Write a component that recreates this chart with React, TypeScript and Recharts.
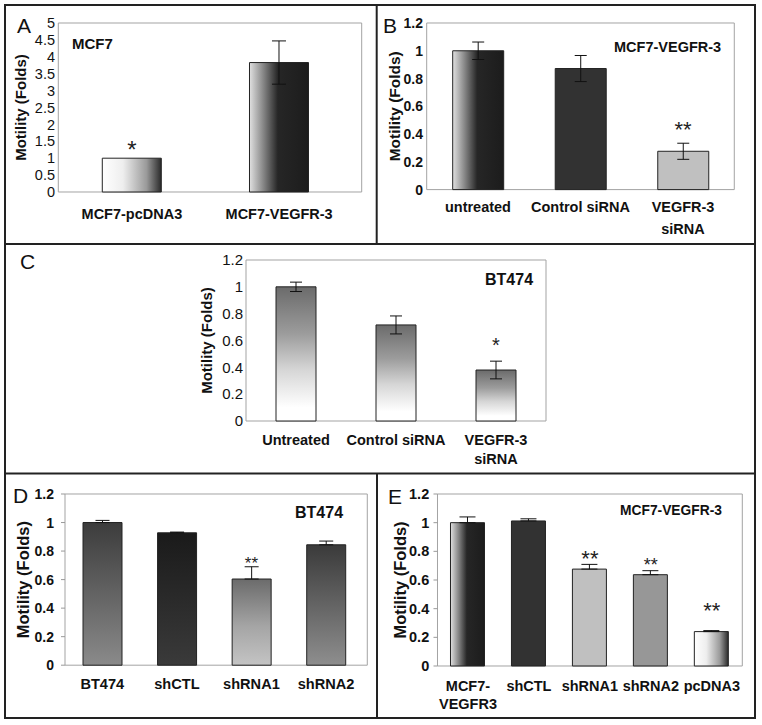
import React from 'react';
import { BarChart, Bar, XAxis, YAxis, CartesianGrid, ErrorBar, Cell, ReferenceDot } from 'recharts';

const FONT = '"Liberation Sans", Arial, Helvetica, sans-serif';

// ---- data ----
const ticksA = [0, 0.5, 1, 1.5, 2, 2.5, 3, 3.5, 4, 4.5, 5];
const ticks12 = [0, 0.2, 0.4, 0.6, 0.8, 1, 1.2];

const catsA = ['MCF7-pcDNA3', 'MCF7-VEGFR-3'];
const valsA = [1.0, 3.83];
const errsA = [0, 0.64];
const sigA = ['*', ''];
const sigAtA = [1.41, 0];

const catsB = ['untreated', 'Control siRNA', 'VEGFR-3\nsiRNA'];
const valsB = [1.0, 0.872, 0.276];
const errsB = [0.063, 0.094, 0.058];
const sigB = ['', '', '**'];
const sigAtB = [0, 0, 0.47];

const catsC = ['Untreated', 'Control siRNA', 'VEGFR-3\nsiRNA'];
const valsC = [1.0, 0.716, 0.38];
const errsC = [0.035, 0.067, 0.066];
const sigC = ['', '', '*'];
const sigAtC = [0, 0, 0.6];

// D and E only have the upper half of the error bar
const catsD = ['BT474', 'shCTL', 'shRNA1', 'shRNA2'];
const valsD = [1.0, 0.928, 0.604, 0.844];
const errsD = [0.015, 0.005, 0.086, 0.026];
const sigD = ['', '', '**', ''];
const sigAtD = [0, 0, 0.74, 0];

const catsE = ['MCF7-\nVEGFR3', 'shCTL', 'shRNA1', 'shRNA2', 'pcDNA3'];
const valsE = [1.0, 1.012, 0.676, 0.637, 0.24];
const errsE = [0.04, 0.015, 0.033, 0.028, 0.007];
const sigE = ['', '', '**', '**', '**'];
const sigAtE = [0, 0, 0.785, 0.734, 0.427];

// ---- fills ----
type Grad = { id: string; dir: 'h' | 'v'; stops: [number, string][] };

const lightToDark: [number, string][] = [[0, '#e0e0e0'], [0.22, '#8c8c8c'], [0.48, '#262626'], [1, '#1c1c1c']];
const whiteToDark: [number, string][] = [[0, '#ffffff'], [0.35, '#eeeeee'], [0.75, '#9a9a9a'], [1, '#2a2a2a']];

const gradsA: Grad[] = [
  { id: 'a0', dir: 'h', stops: whiteToDark },
  { id: 'a1', dir: 'h', stops: lightToDark },
];
const fillsA = ['url(#a0)', 'url(#a1)'];

const gradsB: Grad[] = [{ id: 'b0', dir: 'h', stops: lightToDark }];
const fillsB = ['url(#b0)', '#323232', '#c0c0c0'];

const gradsC: Grad[] = [
  { id: 'c0', dir: 'v', stops: [[0, '#6b6b6b'], [0.35, '#9c9c9c'], [0.62, '#d6d6d6'], [0.9, '#ffffff']] },
];
const fillsC = ['url(#c0)', 'url(#c0)', 'url(#c0)'];

const gradsD: Grad[] = [
  { id: 'd0', dir: 'v', stops: [[0, '#3c3c3c'], [1, '#8a8a8a']] },
  { id: 'd1', dir: 'v', stops: [[0, '#1a1a1a'], [1, '#3a3a3a']] },
  { id: 'd2', dir: 'v', stops: [[0, '#6b6b6b'], [0.55, '#a5a5a5'], [1, '#c4c4c4']] },
  { id: 'd3', dir: 'v', stops: [[0, '#3a3a3a'], [1, '#8e8e8e']] },
];
const fillsD = ['url(#d0)', 'url(#d1)', 'url(#d2)', 'url(#d3)'];

const gradsE: Grad[] = [
  { id: 'e0', dir: 'h', stops: lightToDark },
  { id: 'e4', dir: 'h', stops: whiteToDark },
];
const fillsE = ['url(#e0)', '#323232', '#c0c0c0', '#979797', 'url(#e4)'];

type PanelProps = {
  cats: string[];
  vals: number[];
  errs: number[];
  upperOnly?: boolean;
  sig: string[];
  sigAt: number[];
  sigSize: number[];
  ticks: number[];
  plot: { l: number; t: number; r: number; b: number };
  chartLeft: number;
  padR?: number;
  barSize: number;
  fills: string[];
  grads: Grad[];
  yTitleX: number;
  yTitleSize: number;
  yTickSize: number;
  yTickBold: boolean;
  yGap: number;
  yTickLine?: boolean;
  xFont: number;
  xGap: number;
  xLineH: number;
  capW: number;
};

function Panel(p: PanelProps) {
  const mt = 8;
  const mr = 8;
  const xH = 50;
  const yW = p.plot.l - p.chartLeft;
  const rows = p.cats.map((c, i) => ({
    name: c,
    v: p.vals[i],
    e: p.upperOnly ? [0, p.errs[i]] : p.errs[i],
  }));
  const tl = p.yTickLine ? 4 : 0;

  const renderTick = (t: any) => {
    const lines = String(t.payload.value).split('\n');
    return (
      <text x={t.x} y={t.y} textAnchor="middle" fontFamily={FONT} fontWeight="bold" fontSize={p.xFont} fill="#111">
        {lines.map((ln, i) => (
          <tspan key={i} x={t.x} dy={i === 0 ? p.xFont * 0.72 : p.xLineH}>
            {ln}
          </tspan>
        ))}
      </text>
    );
  };

  return (
    <div style={{ position: 'absolute', left: p.chartLeft, top: p.plot.t - mt }}>
      <BarChart
        width={p.plot.r - p.plot.l + yW + mr}
        height={p.plot.b - p.plot.t + mt + xH}
        data={rows}
        margin={{ top: mt, right: mr, left: 0, bottom: 0 }}
      >
        <defs>
          {p.grads.map((g) => (
            <linearGradient key={g.id} id={g.id} x1="0" y1="0" x2={g.dir === 'h' ? '1' : '0'} y2={g.dir === 'v' ? '1' : '0'}>
              {g.stops.map(([o, c], i) => (
                <stop key={i} offset={o} stopColor={c} />
              ))}
            </linearGradient>
          ))}
        </defs>
        <CartesianGrid
          stroke="#a3a3a3"
          horizontalCoordinatesGenerator={(g: any) => (g.offset ? [g.offset.top, g.offset.top + g.offset.height] : [])}
          verticalCoordinatesGenerator={(g: any) => (g.offset ? [g.offset.left, g.offset.left + g.offset.width] : [])}
        />
        <XAxis
          dataKey="name"
          height={xH}
          axisLine={false}
          tickLine={false}
          tickSize={0}
          tickMargin={p.xGap}
          interval={0}
          padding={{ left: 0, right: p.padR || 0 }}
          tick={renderTick}
        />
        <YAxis
          width={yW}
          domain={[p.ticks[0], p.ticks[p.ticks.length - 1]]}
          ticks={p.ticks}
          interval={0}
          axisLine={false}
          tickLine={p.yTickLine ? { stroke: '#999' } : false}
          tickSize={tl}
          tickMargin={p.yGap - tl}
          tick={{ fill: '#111', fontSize: p.yTickSize, fontWeight: p.yTickBold ? 'bold' : 'normal', fontFamily: FONT }}
          label={{
            value: 'Motility (Folds)',
            angle: -90,
            position: 'insideLeft',
            offset: p.yTitleX - p.chartLeft,
            style: { textAnchor: 'middle', fontSize: p.yTitleSize, fontWeight: 'bold', fontFamily: FONT, fill: '#111' },
          }}
        />
        <Bar dataKey="v" barSize={p.barSize} stroke="#222" strokeWidth={1} isAnimationActive={false}>
          {rows.map((r, i) => (
            <Cell key={r.name} fill={p.fills[i]} />
          ))}
          <ErrorBar dataKey="e" width={p.capW} stroke="#111" strokeWidth={1} isAnimationActive={false} />
        </Bar>
        {p.sig.map((s, i) =>
          s ? (
            <ReferenceDot
              key={'s' + i}
              x={p.cats[i]}
              y={p.sigAt[i]}
              r={1}
              shape={(d: any) => (
                <text
                  x={d.cx}
                  y={d.cy + p.sigSize[i] * 0.58}
                  textAnchor="middle"
                  fontFamily={FONT}
                  fontSize={p.sigSize[i]}
                  fill="#222"
                >
                  {s}
                </text>
              )}
            />
          ) : null
        )}
      </BarChart>
    </div>
  );
}

export default function App() {
  return (
    <div style={{ position: 'absolute', left: 0, top: 0, width: 762, height: 725, background: '#fff' }}>
      <Panel
        cats={catsA} vals={valsA} errs={errsA} sig={sigA} sigAt={sigAtA} sigSize={[24, 24]}
        ticks={ticksA} plot={{ l: 58.3, t: 22.7, r: 361.7, b: 191.7 }} chartLeft={7} padR={9}
        barSize={59} fills={fillsA} grads={gradsA}
        yTitleX={21} yTitleSize={15} yTickSize={14.5} yTickBold={false} yGap={3.3}
        xFont={14.5} xGap={16.6} xLineH={18} capW={7}
      />
      <Panel
        cats={catsB} vals={valsB} errs={errsB} sig={sigB} sigAt={sigAtB} sigSize={[22, 22, 22]}
        ticks={ticks12} plot={{ l: 426.7, t: 22.7, r: 734.3, b: 189.3 }} chartLeft={380}
        barSize={51} fills={fillsB} grads={gradsB}
        yTitleX={394} yTitleSize={15.5} yTickSize={14} yTickBold={true} yGap={3.7}
        xFont={14.5} xGap={12.4} xLineH={22} capW={6}
      />
      <Panel
        cats={catsC} vals={valsC} errs={errsC} sig={sigC} sigAt={sigAtC} sigSize={[20, 20, 20]}
        ticks={ticks12} plot={{ l: 246, t: 260, r: 546, b: 421 }} chartLeft={150}
        barSize={40} fills={fillsC} grads={gradsC}
        yTitleX={207} yTitleSize={15} yTickSize={15} yTickBold={false} yGap={3}
        xFont={14.5} xGap={14} xLineH={19} capW={6}
      />
      <Panel
        cats={catsD} vals={valsD} errs={errsD} upperOnly sig={sigD} sigAt={sigAtD} sigSize={[17, 17, 17, 17]}
        ticks={ticks12} plot={{ l: 65, t: 494.3, r: 367.3, b: 665.5 }} chartLeft={7} padR={4}
        barSize={39} fills={fillsD} grads={gradsD}
        yTitleX={22.7} yTitleSize={16.5} yTickSize={14} yTickBold={true} yGap={11} yTickLine
        xFont={14.6} xGap={13} xLineH={18} capW={7}
      />
      <Panel
        cats={catsE} vals={valsE} errs={errsE} upperOnly sig={sigE} sigAt={sigAtE} sigSize={[22, 22, 22, 18, 22]}
        ticks={ticks12} plot={{ l: 437.5, t: 494, r: 742.3, b: 666 }} chartLeft={380}
        barSize={34} fills={fillsE} grads={gradsE}
        yTitleX={400} yTitleSize={16.5} yTickSize={14.5} yTickBold={true} yGap={8.3} yTickLine
        xFont={14.5} xGap={15} xLineH={17.7} capW={8}
      />

      <svg width={762} height={725} style={{ position: 'absolute', left: 0, top: 0, pointerEvents: 'none' }}>
        <g stroke="#222" strokeWidth={2} fill="none">
          <rect x={5} y={5} width={750} height={713} />
          <line x1={376.7} y1={5} x2={376.7} y2={244} />
          <line x1={5} y1={244} x2={755} y2={244} />
          <line x1={5} y1={473.5} x2={755} y2={473.5} />
          <line x1={377} y1={473.5} x2={377} y2={718} />
        </g>
        <g fontFamily={FONT} fill="#111">
          <text x={17} y={33} fontSize={21}>A</text>
          <text x={383} y={33.3} fontSize={21}>B</text>
          <text x={20} y={269} fontSize={21}>C</text>
          <text x={13} y={503.3} fontSize={21}>D</text>
          <text x={388} y={504} fontSize={21}>E</text>
        </g>
        <g fontFamily={FONT} fill="#111" fontWeight="bold">
          <text x={72} y={48.5} fontSize={15}>MCF7</text>
          <text x={614} y={51.7} fontSize={14.5}>MCF7-VEGFR-3</text>
          <text x={485} y={285.3} fontSize={16}>BT474</text>
          <text x={295} y={518.3} fontSize={16}>BT474</text>
          <text x={620} y={515.3} fontSize={13.8}>MCF7-VEGFR-3</text>
        </g>
      </svg>
    </div>
  );
}
